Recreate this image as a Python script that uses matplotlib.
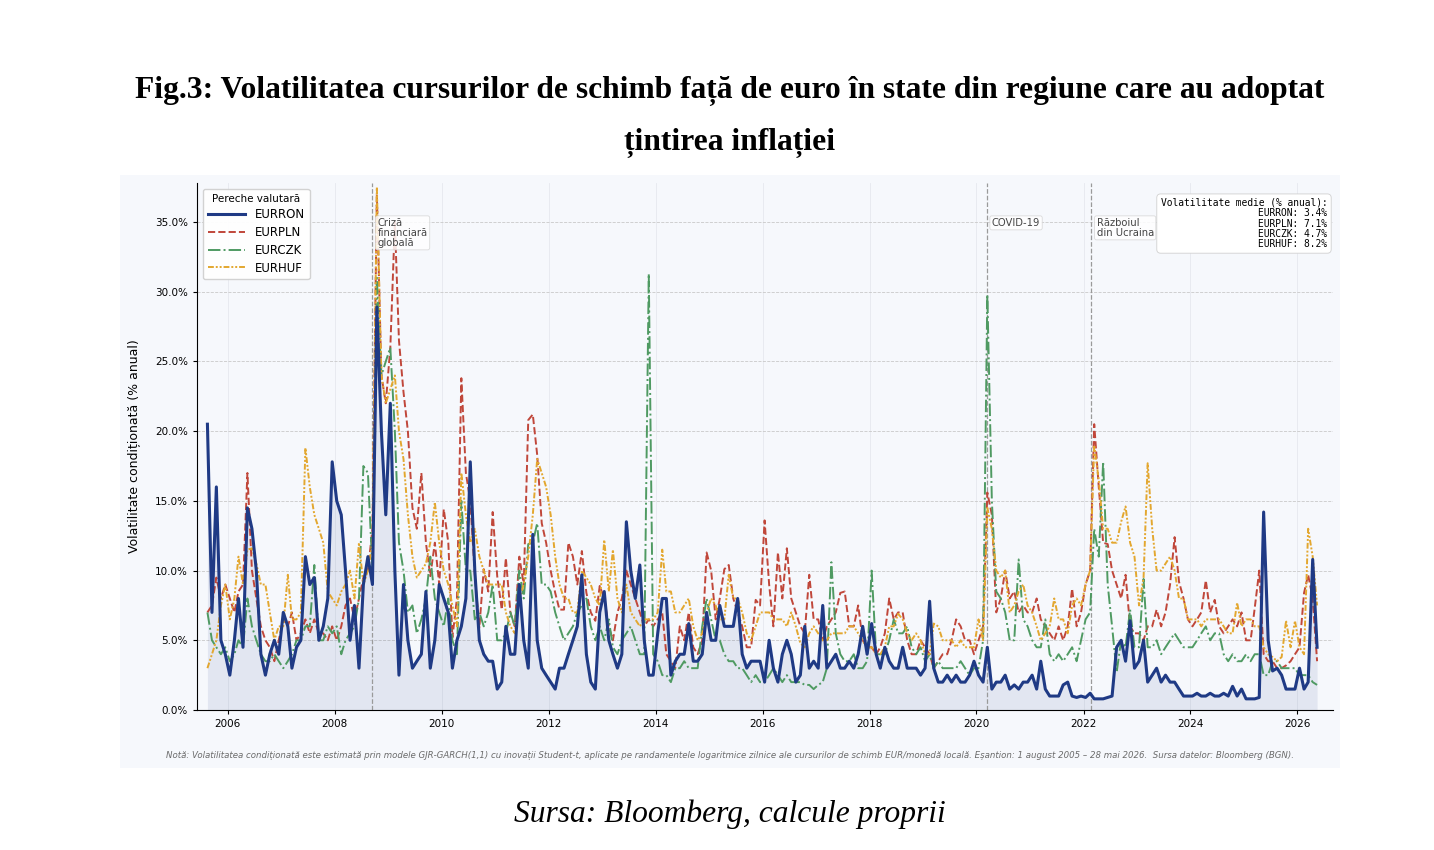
import numpy as np
import pandas as pd
import matplotlib
matplotlib.use("Agg")
import matplotlib.pyplot as plt
import matplotlib.dates as mdates
from matplotlib.patches import Rectangle
from matplotlib.ticker import FuncFormatter

# valori lunare (aug 2005 - mai 2026), volatilitate % anual
months = pd.date_range("2005-08-01", "2026-05-01", freq="MS") + pd.Timedelta(days=14)

eurron = [
    20.5, 7.0, 16.0, 5.0, 4.0,                                    # 2005
    2.5, 5.0, 8.0, 4.5, 14.5, 13.0, 10.0, 4.0, 2.5, 4.0, 5.0, 4.0,  # 2006
    7.0, 6.0, 3.0, 4.5, 5.0, 11.0, 9.0, 9.5, 5.0, 6.0, 8.0, 17.8,   # 2007
    15.0, 14.0, 10.0, 5.0, 7.5, 3.0, 9.0, 11.0, 9.0, 28.9, 20.0, 14.0,
    22.0, 10.0, 2.5, 9.0, 5.0, 3.0, 3.5, 4.0, 8.5, 3.0, 5.0, 9.0,
    8.0, 7.0, 3.0, 5.0, 6.0, 8.0, 17.8, 10.0, 5.0, 4.0, 3.5, 3.5,
    1.5, 2.0, 6.0, 4.0, 4.0, 9.0, 5.0, 3.0, 12.6, 5.0, 3.0, 2.5,
    2.0, 1.5, 3.0, 3.0, 4.0, 5.0, 6.0, 9.7, 4.0, 2.0, 1.5, 7.0,
    8.5, 5.0, 4.0, 3.0, 4.0, 13.5, 10.0, 8.0, 10.4, 5.0, 2.5, 2.5,
    5.5, 8.0, 8.0, 2.5, 3.5, 4.0, 4.0, 6.2, 3.5, 3.5, 4.0, 7.0,
    5.0, 5.0, 7.5, 6.0, 6.0, 6.0, 8.0, 4.0, 3.0, 3.5, 3.5, 3.5,
    2.0, 5.0, 3.0, 2.0, 4.0, 5.0, 4.0, 2.0, 2.5, 6.0, 3.0, 3.5,
    3.0, 7.5, 3.0, 3.5, 4.0, 3.0, 3.0, 3.5, 3.0, 4.0, 6.0, 4.0,
    6.2, 4.0, 3.0, 4.5, 3.5, 3.0, 3.0, 4.5, 3.0, 3.0, 3.0, 2.5,
    3.0, 7.8, 3.0, 2.0, 2.0, 2.5, 2.0, 2.5, 2.0, 2.0, 2.5, 3.5,
    2.5, 2.0, 4.5, 1.5, 2.0, 2.0, 2.5, 1.5, 1.8, 1.5, 2.0, 2.0,
    2.5, 1.5, 3.5, 1.5, 1.0, 1.0, 1.0, 1.8, 2.0, 1.0, 0.9, 1.0,
    0.9, 1.2, 0.8, 0.8, 0.8, 0.9, 1.0, 4.5, 5.0, 3.5, 6.4, 3.0,
    3.5, 5.0, 2.0, 2.5, 3.0, 2.0, 2.5, 2.0, 2.0, 1.5, 1.0, 1.0,
    1.0, 1.2, 1.0, 1.0, 1.2, 1.0, 1.0, 1.2, 1.0, 1.7, 1.0, 1.5,
    0.8, 0.8, 0.8, 0.9, 14.2, 5.0, 2.8, 3.0, 2.5, 1.5, 1.5, 1.5,
    3.0, 1.5, 2.0, 10.8, 4.5,                                     # 2026
]

eurpln = [
    7.0, 7.5, 9.5, 8.0, 9.0,
    8.0, 7.0, 8.5, 9.0, 17.0, 10.0, 8.0, 6.0, 5.0, 4.5, 3.5, 5.0,
    6.5, 6.0, 7.0, 5.0, 5.5, 6.5, 5.5, 6.5, 5.5, 5.5, 5.0, 6.0,
    5.0, 6.0, 7.5, 8.0, 6.5, 8.0, 9.5, 10.0, 13.0, 37.0, 24.0, 22.0,
    26.0, 35.0, 26.5, 22.8, 20.0, 14.5, 13.0, 17.0, 12.0, 9.6, 12.0, 9.0,
    14.4, 12.0, 5.2, 8.0, 23.8, 17.0, 15.0, 9.7, 5.9, 10.1, 8.5, 14.2,
    9.6, 7.2, 10.9, 7.0, 6.0, 11.0, 9.0, 20.8, 21.2, 18.3, 13.4, 12.0,
    10.0, 8.4, 7.2, 7.2, 12.0, 11.0, 9.0, 11.4, 8.4, 7.0, 6.4, 8.9,
    8.0, 6.0, 5.0, 7.0, 8.0, 10.0, 9.0, 8.0, 7.0, 6.0, 6.5, 6.0,
    6.5, 7.0, 4.0, 3.5, 3.0, 6.0, 5.0, 7.0, 4.5, 4.0, 5.0, 11.3,
    10.0, 6.5, 8.0, 10.1, 10.4, 8.0, 7.0, 6.0, 4.5, 4.5, 7.9, 7.5,
    13.6, 9.0, 6.0, 11.3, 8.0, 11.6, 8.0, 7.0, 6.0, 5.5, 9.7, 6.5,
    6.5, 5.0, 6.0, 6.5, 7.0, 8.4, 8.5, 6.0, 6.0, 7.5, 5.0, 4.5,
    4.5, 4.0, 4.5, 5.5, 8.0, 6.5, 7.0, 7.0, 5.0, 4.0, 4.0, 5.0,
    4.5, 4.0, 3.0, 3.5, 4.0, 4.0, 5.0, 6.5, 6.0, 5.0, 5.0, 4.0,
    5.0, 6.0, 15.6, 14.0, 7.0, 8.0, 10.0, 8.0, 8.5, 7.0, 7.5, 7.0,
    7.0, 8.0, 6.5, 6.0, 5.5, 5.0, 6.0, 5.0, 6.0, 8.7, 6.0, 7.0,
    9.0, 10.0, 20.5, 16.0, 12.0, 11.9, 10.0, 9.0, 8.0, 9.7, 6.0, 5.5,
    5.5, 5.0, 6.0, 6.0, 7.2, 6.0, 7.0, 9.0, 12.4, 9.2, 8.0, 6.5,
    6.0, 6.5, 7.0, 9.3, 7.0, 7.9, 6.0, 5.5, 6.0, 6.5, 6.0, 7.0,
    5.0, 5.0, 7.3, 10.0, 4.0, 3.5, 3.5, 3.0, 3.0, 3.2, 3.5, 4.0,
    4.5, 8.4, 9.7, 8.0, 3.5,
]

eurczk = [
    7.0, 5.0, 4.5, 4.0, 4.5,
    3.5, 4.0, 5.0, 4.5, 8.0, 6.0, 5.0, 4.0, 3.5, 3.5, 4.0, 3.5,
    3.0, 3.5, 4.0, 5.0, 5.0, 6.0, 6.0, 10.4, 5.0, 5.0, 6.0, 5.5,
    6.0, 4.0, 5.0, 5.5, 6.0, 8.0, 17.5, 17.0, 10.0, 31.0, 24.0, 25.0,
    26.0, 20.0, 12.0, 10.0, 7.0, 7.5, 5.5, 6.5, 8.0, 11.0, 8.0, 7.0,
    6.0, 8.0, 5.0, 4.0, 15.0, 10.0, 10.0, 6.5, 7.0, 6.0, 7.0, 9.0,
    5.0, 5.0, 5.5, 7.0, 6.0, 10.0, 8.0, 11.9, 12.0, 13.4, 9.0, 9.0,
    8.5, 7.0, 6.0, 5.0, 5.5, 6.0, 7.0, 7.5, 8.0, 6.0, 5.0, 6.0,
    5.0, 6.5, 4.5, 4.0, 5.0, 5.5, 6.0, 5.0, 4.0, 4.0, 31.3, 4.0,
    3.5, 2.5, 2.5, 2.0, 3.0, 3.0, 3.5, 3.0, 3.0, 3.0, 6.0, 8.0,
    6.5, 5.0, 5.0, 4.0, 3.5, 3.5, 3.0, 3.0, 2.5, 2.0, 2.5, 2.0,
    2.0, 2.5, 3.0, 2.5, 2.0, 2.5, 2.0, 2.0, 2.0, 1.8, 1.8, 1.5,
    1.8, 2.0, 3.0, 10.6, 5.5, 4.0, 3.5, 3.5, 4.0, 3.0, 3.0, 3.5,
    10.0, 4.0, 4.0, 4.0, 5.0, 6.5, 5.5, 5.5, 6.0, 4.5, 4.0, 4.5,
    3.5, 4.0, 3.0, 3.5, 3.0, 3.0, 3.0, 3.0, 3.5, 3.0, 2.5, 3.0,
    3.0, 5.0, 29.8, 15.0, 8.5, 8.0, 7.0, 5.0, 5.0, 10.8, 6.5, 6.0,
    5.0, 4.5, 4.5, 6.5, 4.0, 3.5, 4.0, 3.5, 4.0, 4.5, 3.5, 5.0,
    6.5, 7.0, 13.0, 11.0, 17.8, 9.0, 6.0, 2.7, 5.0, 4.5, 7.2, 4.5,
    4.5, 9.4, 4.5, 4.5, 5.0, 4.0, 4.5, 5.0, 5.5, 5.0, 4.5, 4.5,
    4.5, 5.0, 5.5, 6.0, 5.0, 5.5, 5.5, 4.0, 3.5, 4.0, 3.5, 3.5,
    4.0, 3.5, 4.0, 4.0, 2.5, 2.5, 3.5, 3.5, 3.0, 3.0, 3.0, 3.0,
    2.5, 2.5, 2.5, 2.0, 1.8,
]

eurhuf = [
    3.0, 4.0, 5.0, 7.5, 9.0,
    6.5, 8.0, 11.0, 9.0, 11.5, 11.6, 10.5, 9.0, 9.0, 7.0, 5.0, 6.0,
    6.0, 9.7, 6.5, 6.5, 7.0, 18.8, 16.0, 14.0, 13.0, 12.0, 8.5, 8.0,
    7.5, 8.5, 9.0, 10.0, 8.0, 12.0, 9.0, 10.0, 12.0, 37.5, 24.0, 22.0,
    23.0, 24.0, 20.0, 18.0, 14.0, 11.0, 9.5, 10.0, 10.5, 12.0, 14.9, 12.0,
    10.0, 9.0, 7.5, 6.0, 17.0, 14.0, 12.0, 13.0, 11.0, 10.0, 9.0, 9.0,
    9.0, 9.0, 7.0, 6.0, 5.5, 8.0, 9.0, 11.0, 14.0, 18.0, 17.0, 16.0,
    14.0, 11.0, 9.0, 8.0, 8.0, 7.0, 7.0, 10.0, 9.5, 9.0, 8.0, 7.5,
    12.2, 8.5, 11.5, 8.0, 7.0, 9.0, 7.0, 6.5, 6.0, 6.5, 6.5, 6.5,
    7.0, 11.5, 8.5, 8.5, 7.0, 7.0, 7.5, 8.0, 6.0, 5.0, 5.5, 7.0,
    8.0, 7.5, 6.5, 6.5, 9.7, 8.0, 8.0, 7.0, 5.5, 5.0, 6.0, 7.0,
    7.0, 7.0, 6.5, 6.5, 6.5, 6.0, 7.0, 6.0, 4.8, 4.5, 5.5, 6.0,
    5.5, 5.0, 5.0, 5.5, 5.5, 5.5, 5.5, 6.0, 6.0, 5.5, 5.0, 4.5,
    4.5, 4.0, 4.0, 4.5, 6.0, 6.0, 6.9, 6.5, 5.5, 5.0, 5.5, 5.0,
    4.0, 4.0, 6.2, 6.0, 5.0, 5.0, 5.0, 4.5, 5.0, 4.5, 4.5, 4.5,
    6.5, 5.0, 14.5, 13.0, 10.0, 9.5, 10.0, 7.0, 7.5, 8.5, 9.0, 7.5,
    7.0, 6.0, 5.0, 5.5, 6.0, 8.0, 6.5, 6.5, 5.5, 7.5, 8.0, 7.5,
    9.0, 10.0, 19.0, 16.5, 13.0, 13.0, 12.0, 12.0, 13.5, 14.6, 12.0, 11.0,
    7.5, 9.5, 17.7, 13.0, 10.0, 10.0, 10.5, 11.0, 10.0, 8.0, 8.0, 6.5,
    6.5, 6.5, 6.0, 6.5, 6.5, 6.5, 6.5, 6.0, 5.5, 5.5, 7.7, 6.0,
    6.5, 6.5, 6.0, 6.0, 4.5, 4.0, 3.8, 3.5, 3.8, 6.4, 4.5, 6.4,
    4.5, 4.0, 13.0, 11.0, 7.5,
]

pairs = ["EURRON", "EURPLN", "EURCZK", "EURHUF"]
avg_vol = [3.4, 7.1, 4.7, 8.2]

events = ["2008-09-15", "2020-03-11", "2022-02-24"]
event_labels = ["Criză\nfinanciară\nglobală", "COVID-19", "Războiul\ndin Ucraina"]

title = ("Fig.3: Volatilitatea cursurilor de schimb față de euro în state din regiune care au adoptat\n"
         "țintirea inflației")
note = ("Notă: Volatilitatea condiționată este estimată prin modele GJR-GARCH(1,1) cu inovații Student-t, "
        "aplicate pe randamentele logaritmice zilnice ale cursurilor de schimb EUR/monedă locală. "
        "Eșantion: 1 august 2005 – 28 mai 2026.  Sursa datelor: Bloomberg (BGN).")
source = "Sursa: Bloomberg, calcule proprii"

colors = ["#1f3a85", "#c0473a", "#4f9a62", "#e3a72f"]
styles = ["-", "--", "-.", (0, (3, 1, 1, 1, 1, 1))]
widths = [2.2, 1.4, 1.4, 1.4]
bg = "#f6f8fc"

fig = plt.figure(figsize=(14.34, 8.5), dpi=100)
fig.patches.append(Rectangle((0.0837, 0.0965), 0.8508, 0.6976, transform=fig.transFigure,
                             facecolor=bg, edgecolor="none", zorder=-5))

fig.text(0.509, 0.91, title, ha="center", va="top", fontsize=22.7, fontweight="bold",
         family="Liberation Serif", linespacing=2.0)
fig.text(0.509, 0.042, source, ha="center", va="center", fontsize=22.7, style="italic",
         family="Liberation Serif")
fig.text(0.509, 0.1106, note, ha="center", va="center", fontsize=6.2, style="italic", color="#6b6b6b")

ax = fig.add_axes([0.1374, 0.1647, 0.7922, 0.62])
ax.set_facecolor(bg)

series = [eurron, eurpln, eurczk, eurhuf]
ax.fill_between(months, 0, eurron, color="#1f3a85", alpha=0.09, lw=0, zorder=1)
for name, vals, c, ls, lw in zip(pairs, series, colors, styles, widths):
    ax.plot(months, vals, color=c, ls=ls, lw=lw, label=name, zorder=3 if name == "EURRON" else 2)

for d, lab in zip(events, event_labels):
    d = pd.Timestamp(d)
    ax.axvline(d, color="#9a9a9a", ls="--", lw=0.9, zorder=1)
    ax.text(d + pd.Timedelta(days=35), 35.3, lab, ha="left", va="top", fontsize=7.2, color="#444444",
            linespacing=1.0, zorder=5,
            bbox=dict(boxstyle="round,pad=0.2", facecolor="white", edgecolor="#d5d5d5", alpha=0.85, lw=0.6))

stats = "Volatilitate medie (% anual):\n" + "\n".join(f"{p}: {v:.1f}%" for p, v in zip(pairs, avg_vol))
ax.text(0.995, 0.972, stats, transform=ax.transAxes, ha="right", va="top", fontsize=6.9,
        family="DejaVu Sans Mono", multialignment="right", linespacing=1.05, zorder=6,
        bbox=dict(boxstyle="round,pad=0.4", facecolor="white", edgecolor="#d0d0d0", lw=0.6))

ax.set_xlim(pd.Timestamp("2005-06-05"), pd.Timestamp("2026-09-01"))
ax.set_ylim(0, 37.8)
ax.set_yticks(np.arange(0, 36, 5))
ax.yaxis.set_major_formatter(FuncFormatter(lambda v, p: f"{v:.1f}%"))
ax.xaxis.set_major_locator(mdates.YearLocator(2))
ax.xaxis.set_major_formatter(mdates.DateFormatter("%Y"))
ax.tick_params(labelsize=7.5, length=3)
ax.set_ylabel("Volatilitate condiționată (% anual)", fontsize=9, labelpad=10)

ax.yaxis.grid(True, ls="--", color="#c9c9c9", lw=0.6)
ax.xaxis.grid(True, ls="-", color="#e6e8ee", lw=0.6)
ax.set_axisbelow(True)
for s in ["top", "right"]:
    ax.spines[s].set_visible(False)

leg = ax.legend(loc="upper left", title="Pereche valutară", fontsize=8.5, title_fontsize=7.5,
                frameon=True, framealpha=0.95, edgecolor="#d0d0d0", borderaxespad=0.5,
                handlelength=3.2, labelspacing=0.4)
leg.set_zorder(7)

fig.savefig("out.png", dpi=100)
